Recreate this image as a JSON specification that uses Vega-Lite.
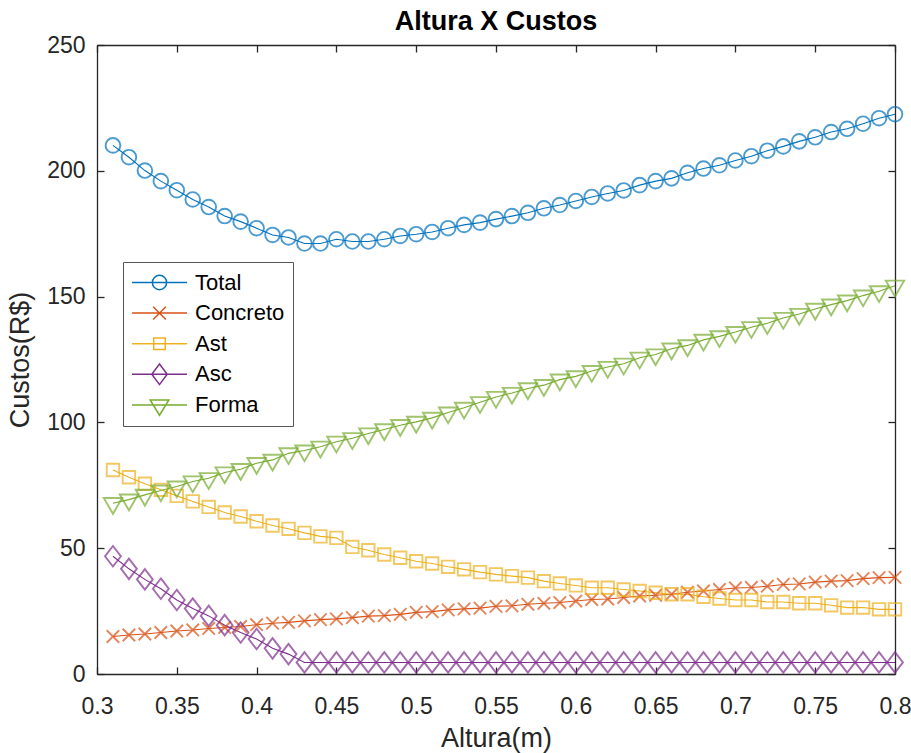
{
"$schema":"https://vega.github.io/schema/vega-lite/v6.json",
"width":798,"height":629,
"autosize":{"type":"none"},
"padding":{"left":97,"top":45,"right":16,"bottom":79},
"background":"white",
"title":{"text":"Altura X Custos","font":"Liberation Sans","fontSize":27,"fontWeight":"bold","color":"#000000","offset":8,"dy":10,"anchor":"middle"},
"datasets":{"d":[
{"altura":0.31,"serie":"Total","custo":210.1},{"altura":0.32,"serie":"Total","custo":205.4},{"altura":0.33,"serie":"Total","custo":200.1},{"altura":0.34,"serie":"Total","custo":195.9},{"altura":0.35,"serie":"Total","custo":192.3},{"altura":0.36,"serie":"Total","custo":188.6},{"altura":0.37,"serie":"Total","custo":185.6},{"altura":0.38,"serie":"Total","custo":182.0},{"altura":0.39,"serie":"Total","custo":179.8},{"altura":0.40,"serie":"Total","custo":177.2},
{"altura":0.41,"serie":"Total","custo":174.5},{"altura":0.42,"serie":"Total","custo":173.5},{"altura":0.43,"serie":"Total","custo":171.1},{"altura":0.44,"serie":"Total","custo":171.1},{"altura":0.45,"serie":"Total","custo":172.8},{"altura":0.46,"serie":"Total","custo":171.9},{"altura":0.47,"serie":"Total","custo":171.9},{"altura":0.48,"serie":"Total","custo":172.8},{"altura":0.49,"serie":"Total","custo":174.1},{"altura":0.50,"serie":"Total","custo":174.8},
{"altura":0.51,"serie":"Total","custo":175.7},{"altura":0.52,"serie":"Total","custo":177.2},{"altura":0.53,"serie":"Total","custo":178.5},{"altura":0.54,"serie":"Total","custo":179.4},{"altura":0.55,"serie":"Total","custo":180.8},{"altura":0.56,"serie":"Total","custo":182.0},{"altura":0.57,"serie":"Total","custo":183.3},{"altura":0.58,"serie":"Total","custo":185.1},{"altura":0.59,"serie":"Total","custo":186.4},{"altura":0.60,"serie":"Total","custo":188.0},
{"altura":0.61,"serie":"Total","custo":189.6},{"altura":0.62,"serie":"Total","custo":191.0},{"altura":0.63,"serie":"Total","custo":192.2},{"altura":0.64,"serie":"Total","custo":194.3},{"altura":0.65,"serie":"Total","custo":195.9},{"altura":0.66,"serie":"Total","custo":197.0},{"altura":0.67,"serie":"Total","custo":199.2},{"altura":0.68,"serie":"Total","custo":200.9},{"altura":0.69,"serie":"Total","custo":202.2},{"altura":0.70,"serie":"Total","custo":204.1},
{"altura":0.71,"serie":"Total","custo":205.8},{"altura":0.72,"serie":"Total","custo":208.0},{"altura":0.73,"serie":"Total","custo":209.7},{"altura":0.74,"serie":"Total","custo":211.7},{"altura":0.75,"serie":"Total","custo":213.3},{"altura":0.76,"serie":"Total","custo":215.4},{"altura":0.77,"serie":"Total","custo":216.7},{"altura":0.78,"serie":"Total","custo":218.7},{"altura":0.79,"serie":"Total","custo":220.9},{"altura":0.80,"serie":"Total","custo":222.5},
{"altura":0.31,"serie":"Concreto","custo":14.9},{"altura":0.32,"serie":"Concreto","custo":15.5},{"altura":0.33,"serie":"Concreto","custo":15.9},{"altura":0.34,"serie":"Concreto","custo":16.5},{"altura":0.35,"serie":"Concreto","custo":17.1},{"altura":0.36,"serie":"Concreto","custo":17.5},{"altura":0.37,"serie":"Concreto","custo":18.1},{"altura":0.38,"serie":"Concreto","custo":18.5},{"altura":0.39,"serie":"Concreto","custo":18.9},{"altura":0.40,"serie":"Concreto","custo":19.6},
{"altura":0.41,"serie":"Concreto","custo":20.2},{"altura":0.42,"serie":"Concreto","custo":20.5},{"altura":0.43,"serie":"Concreto","custo":21.1},{"altura":0.44,"serie":"Concreto","custo":21.6},{"altura":0.45,"serie":"Concreto","custo":21.9},{"altura":0.46,"serie":"Concreto","custo":22.4},{"altura":0.47,"serie":"Concreto","custo":23.0},{"altura":0.48,"serie":"Concreto","custo":23.2},{"altura":0.49,"serie":"Concreto","custo":23.7},{"altura":0.50,"serie":"Concreto","custo":24.5},
{"altura":0.51,"serie":"Concreto","custo":24.8},{"altura":0.52,"serie":"Concreto","custo":25.5},{"altura":0.53,"serie":"Concreto","custo":25.9},{"altura":0.54,"serie":"Concreto","custo":26.2},{"altura":0.55,"serie":"Concreto","custo":26.9},{"altura":0.56,"serie":"Concreto","custo":27.1},{"altura":0.57,"serie":"Concreto","custo":27.7},{"altura":0.58,"serie":"Concreto","custo":28.1},{"altura":0.59,"serie":"Concreto","custo":28.4},{"altura":0.60,"serie":"Concreto","custo":29.0},
{"altura":0.61,"serie":"Concreto","custo":29.6},{"altura":0.62,"serie":"Concreto","custo":29.8},{"altura":0.63,"serie":"Concreto","custo":30.4},{"altura":0.64,"serie":"Concreto","custo":31.0},{"altura":0.65,"serie":"Concreto","custo":31.3},{"altura":0.66,"serie":"Concreto","custo":31.7},{"altura":0.67,"serie":"Concreto","custo":32.5},{"altura":0.68,"serie":"Concreto","custo":33.0},{"altura":0.69,"serie":"Concreto","custo":33.6},{"altura":0.70,"serie":"Concreto","custo":34.2},
{"altura":0.71,"serie":"Concreto","custo":34.4},{"altura":0.72,"serie":"Concreto","custo":34.9},{"altura":0.73,"serie":"Concreto","custo":35.6},{"altura":0.74,"serie":"Concreto","custo":35.8},{"altura":0.75,"serie":"Concreto","custo":36.5},{"altura":0.76,"serie":"Concreto","custo":36.9},{"altura":0.77,"serie":"Concreto","custo":37.1},{"altura":0.78,"serie":"Concreto","custo":37.9},{"altura":0.79,"serie":"Concreto","custo":38.3},{"altura":0.80,"serie":"Concreto","custo":38.4},
{"altura":0.31,"serie":"Ast","custo":81.1},{"altura":0.32,"serie":"Ast","custo":78.2},{"altura":0.33,"serie":"Ast","custo":75.6},{"altura":0.34,"serie":"Ast","custo":73.2},{"altura":0.35,"serie":"Ast","custo":70.8},{"altura":0.36,"serie":"Ast","custo":68.6},{"altura":0.37,"serie":"Ast","custo":66.4},{"altura":0.38,"serie":"Ast","custo":64.2},{"altura":0.39,"serie":"Ast","custo":62.6},{"altura":0.40,"serie":"Ast","custo":60.7},
{"altura":0.41,"serie":"Ast","custo":59.0},{"altura":0.42,"serie":"Ast","custo":57.7},{"altura":0.43,"serie":"Ast","custo":56.1},{"altura":0.44,"serie":"Ast","custo":54.7},{"altura":0.45,"serie":"Ast","custo":54.1},{"altura":0.46,"serie":"Ast","custo":50.5},{"altura":0.47,"serie":"Ast","custo":49.2},{"altura":0.48,"serie":"Ast","custo":47.5},{"altura":0.49,"serie":"Ast","custo":46.2},{"altura":0.50,"serie":"Ast","custo":44.8},
{"altura":0.51,"serie":"Ast","custo":43.9},{"altura":0.52,"serie":"Ast","custo":42.6},{"altura":0.53,"serie":"Ast","custo":41.6},{"altura":0.54,"serie":"Ast","custo":40.5},{"altura":0.55,"serie":"Ast","custo":39.6},{"altura":0.56,"serie":"Ast","custo":38.9},{"altura":0.57,"serie":"Ast","custo":38.3},{"altura":0.58,"serie":"Ast","custo":36.9},{"altura":0.59,"serie":"Ast","custo":36.0},{"altura":0.60,"serie":"Ast","custo":35.2},
{"altura":0.61,"serie":"Ast","custo":34.3},{"altura":0.62,"serie":"Ast","custo":34.3},{"altura":0.63,"serie":"Ast","custo":33.6},{"altura":0.64,"serie":"Ast","custo":33.0},{"altura":0.65,"serie":"Ast","custo":32.3},{"altura":0.66,"serie":"Ast","custo":31.7},{"altura":0.67,"serie":"Ast","custo":31.7},{"altura":0.68,"serie":"Ast","custo":30.7},{"altura":0.69,"serie":"Ast","custo":30.0},{"altura":0.70,"serie":"Ast","custo":29.4},
{"altura":0.71,"serie":"Ast","custo":29.4},{"altura":0.72,"serie":"Ast","custo":28.6},{"altura":0.73,"serie":"Ast","custo":28.6},{"altura":0.74,"serie":"Ast","custo":28.1},{"altura":0.75,"serie":"Ast","custo":28.1},{"altura":0.76,"serie":"Ast","custo":27.3},{"altura":0.77,"serie":"Ast","custo":26.4},{"altura":0.78,"serie":"Ast","custo":26.4},{"altura":0.79,"serie":"Ast","custo":25.7},{"altura":0.80,"serie":"Ast","custo":25.7},
{"altura":0.31,"serie":"Asc","custo":46.8},{"altura":0.32,"serie":"Asc","custo":41.8},{"altura":0.33,"serie":"Asc","custo":37.6},{"altura":0.34,"serie":"Asc","custo":33.9},{"altura":0.35,"serie":"Asc","custo":29.4},{"altura":0.36,"serie":"Asc","custo":26.0},{"altura":0.37,"serie":"Asc","custo":23.1},{"altura":0.38,"serie":"Asc","custo":19.4},{"altura":0.39,"serie":"Asc","custo":16.5},{"altura":0.40,"serie":"Asc","custo":13.9},
{"altura":0.41,"serie":"Asc","custo":10.2},{"altura":0.42,"serie":"Asc","custo":7.9},{"altura":0.43,"serie":"Asc","custo":4.6},{"altura":0.44,"serie":"Asc","custo":4.6},{"altura":0.45,"serie":"Asc","custo":4.6},{"altura":0.46,"serie":"Asc","custo":4.6},{"altura":0.47,"serie":"Asc","custo":4.6},{"altura":0.48,"serie":"Asc","custo":4.6},{"altura":0.49,"serie":"Asc","custo":4.6},{"altura":0.50,"serie":"Asc","custo":4.6},
{"altura":0.51,"serie":"Asc","custo":4.6},{"altura":0.52,"serie":"Asc","custo":4.6},{"altura":0.53,"serie":"Asc","custo":4.6},{"altura":0.54,"serie":"Asc","custo":4.6},{"altura":0.55,"serie":"Asc","custo":4.6},{"altura":0.56,"serie":"Asc","custo":4.6},{"altura":0.57,"serie":"Asc","custo":4.6},{"altura":0.58,"serie":"Asc","custo":4.6},{"altura":0.59,"serie":"Asc","custo":4.6},{"altura":0.60,"serie":"Asc","custo":4.6},
{"altura":0.61,"serie":"Asc","custo":4.6},{"altura":0.62,"serie":"Asc","custo":4.6},{"altura":0.63,"serie":"Asc","custo":4.6},{"altura":0.64,"serie":"Asc","custo":4.6},{"altura":0.65,"serie":"Asc","custo":4.6},{"altura":0.66,"serie":"Asc","custo":4.6},{"altura":0.67,"serie":"Asc","custo":4.6},{"altura":0.68,"serie":"Asc","custo":4.6},{"altura":0.69,"serie":"Asc","custo":4.6},{"altura":0.70,"serie":"Asc","custo":4.6},
{"altura":0.71,"serie":"Asc","custo":4.6},{"altura":0.72,"serie":"Asc","custo":4.6},{"altura":0.73,"serie":"Asc","custo":4.6},{"altura":0.74,"serie":"Asc","custo":4.6},{"altura":0.75,"serie":"Asc","custo":4.6},{"altura":0.76,"serie":"Asc","custo":4.6},{"altura":0.77,"serie":"Asc","custo":4.6},{"altura":0.78,"serie":"Asc","custo":4.6},{"altura":0.79,"serie":"Asc","custo":4.6},{"altura":0.80,"serie":"Asc","custo":4.6},
{"altura":0.31,"serie":"Forma","custo":67.9},{"altura":0.32,"serie":"Forma","custo":69.3},{"altura":0.33,"serie":"Forma","custo":71.2},{"altura":0.34,"serie":"Forma","custo":72.9},{"altura":0.35,"serie":"Forma","custo":74.5},{"altura":0.36,"serie":"Forma","custo":76.5},{"altura":0.37,"serie":"Forma","custo":77.8},{"altura":0.38,"serie":"Forma","custo":80.1},{"altura":0.39,"serie":"Forma","custo":81.4},{"altura":0.40,"serie":"Forma","custo":83.8},
{"altura":0.41,"serie":"Forma","custo":85.1},{"altura":0.42,"serie":"Forma","custo":87.7},{"altura":0.43,"serie":"Forma","custo":88.8},{"altura":0.44,"serie":"Forma","custo":90.3},{"altura":0.45,"serie":"Forma","custo":92.3},{"altura":0.46,"serie":"Forma","custo":93.7},{"altura":0.47,"serie":"Forma","custo":95.6},{"altura":0.48,"serie":"Forma","custo":97.2},{"altura":0.49,"serie":"Forma","custo":98.9},{"altura":0.50,"serie":"Forma","custo":100.2},
{"altura":0.51,"serie":"Forma","custo":101.8},{"altura":0.52,"serie":"Forma","custo":103.9},{"altura":0.53,"serie":"Forma","custo":105.8},{"altura":0.54,"serie":"Forma","custo":108.0},{"altura":0.55,"serie":"Forma","custo":110.1},{"altura":0.56,"serie":"Forma","custo":111.7},{"altura":0.57,"serie":"Forma","custo":113.5},{"altura":0.58,"serie":"Forma","custo":114.8},{"altura":0.59,"serie":"Forma","custo":117.0},{"altura":0.60,"serie":"Forma","custo":118.3},
{"altura":0.61,"serie":"Forma","custo":120.4},{"altura":0.62,"serie":"Forma","custo":122.0},{"altura":0.63,"serie":"Forma","custo":123.3},{"altura":0.64,"serie":"Forma","custo":125.7},{"altura":0.65,"serie":"Forma","custo":127.0},{"altura":0.66,"serie":"Forma","custo":129.3},{"altura":0.67,"serie":"Forma","custo":130.6},{"altura":0.68,"serie":"Forma","custo":132.8},{"altura":0.69,"serie":"Forma","custo":134.2},{"altura":0.70,"serie":"Forma","custo":135.9},
{"altura":0.71,"serie":"Forma","custo":137.8},{"altura":0.72,"serie":"Forma","custo":139.4},{"altura":0.73,"serie":"Forma","custo":141.5},{"altura":0.74,"serie":"Forma","custo":143.1},{"altura":0.75,"serie":"Forma","custo":145.1},{"altura":0.76,"serie":"Forma","custo":146.8},{"altura":0.77,"serie":"Forma","custo":148.4},{"altura":0.78,"serie":"Forma","custo":150.4},{"altura":0.79,"serie":"Forma","custo":152.1},{"altura":0.80,"serie":"Forma","custo":154.3}
]},
"data":{"name":"d"},
"config":{
 "view":{"stroke":null},
 "axis":{"grid":false,"domainColor":"#262626","domainWidth":1.3,"tickColor":"#262626","tickWidth":1.3,"tickSize":-7,
  "labelFont":"Liberation Sans","labelFontSize":23,"labelColor":"#262626",
  "titleFont":"Liberation Sans","titleFontSize":27,"titleFontWeight":"normal","titleColor":"#262626"},
 "point":{"filled":false,"size":215,"strokeWidth":1.9}
},
"resolve":{"axis":{"x":"independent","y":"independent"}},
"layer":[
 {"mark":{"type":"line","strokeWidth":1.1},
  "encoding":{
   "x":{"field":"altura","type":"quantitative","scale":{"domain":[0.3,0.8],"nice":false,"zero":false},
        "axis":{"title":"Altura(m)","values":[0.3,0.35,0.4,0.45,0.5,0.55,0.6,0.65,0.7,0.75,0.8],"format":"~g","labelPadding":28,"titlePadding":7,"labelFlush":false,"labelBound":false,"labelOverlap":false}},
   "y":{"field":"custo","type":"quantitative","scale":{"domain":[0,250],"nice":false},
        "axis":{"title":"Custos(R$)","values":[0,50,100,150,200,250],"labelPadding":19,"titlePadding":12,"labelFlush":false,"labelOverlap":false}},
   "color":{"field":"serie","type":"nominal",
     "scale":{"domain":["Total","Concreto","Ast","Asc","Forma"],"range":["#0072BD","#D95319","#EDB120","#7E2F8E","#77AC30"]},
     "legend":{"title":null,"orient":"none","legendX":26,"legendY":217,"padding":8,
       "strokeColor":"#555555","fillColor":"white","labelFont":"Liberation Sans","labelFontSize":22,"labelColor":"#000000",
       "symbolSize":3025,"symbolStrokeWidth":1.5,"labelOffset":7,"clipHeight":25,"rowPadding":5.6,
       "encode":{"symbols":{"update":{"fill":{"value":"transparent"},"shape":{"signal":"datum.value==='Total'?'M-1,0L1,0M-0.26,0A0.26,0.26 0 1,1 0.26,0A0.26,0.26 0 1,1 -0.26,0':datum.value==='Concreto'?'M-1,0L1,0M-0.23,-0.23L0.23,0.23M-0.23,0.23L0.23,-0.23':datum.value==='Ast'?'M-1,0L1,0M-0.21,-0.21H0.21V0.21H-0.21Z':datum.value==='Asc'?'M-1,0L1,0M0,-0.375L0.28,0L0,0.375L-0.28,0Z':'M-1,0L1,0M-0.34,-0.18L0.34,-0.18L0,0.375Z'"}}}}}}
  }},
 {"transform":[{"filter":"datum.serie==='Total'"}],
  "mark":{"type":"point","shape":"circle"},
  "encoding":{"x":{"field":"altura","type":"quantitative","axis":null},"y":{"field":"custo","type":"quantitative","axis":null},"color":{"field":"serie","type":"nominal","legend":null}}},
 {"transform":[{"filter":"datum.serie==='Concreto'"}],
  "mark":{"type":"point","shape":"M-0.85,-0.85L0.85,0.85M-0.85,0.85L0.85,-0.85"},
  "encoding":{"x":{"field":"altura","type":"quantitative","axis":null},"y":{"field":"custo","type":"quantitative","axis":null},"color":{"field":"serie","type":"nominal","legend":null}}},
 {"transform":[{"filter":"datum.serie==='Ast'"}],
  "mark":{"type":"point","shape":"M-0.85,-0.85H0.85V0.85H-0.85Z"},
  "encoding":{"x":{"field":"altura","type":"quantitative","axis":null},"y":{"field":"custo","type":"quantitative","axis":null},"color":{"field":"serie","type":"nominal","legend":null}}},
 {"transform":[{"filter":"datum.serie==='Asc'"}],
  "mark":{"type":"point","shape":"M0,-1.4L1.08,0L0,1.4L-1.08,0Z"},
  "encoding":{"x":{"field":"altura","type":"quantitative","axis":null},"y":{"field":"custo","type":"quantitative","axis":null},"color":{"field":"serie","type":"nominal","legend":null}}},
 {"transform":[{"filter":"datum.serie==='Forma'"}],
  "mark":{"type":"point","shape":"M-1.25,-0.7L1.25,-0.7L0,1.45Z"},
  "encoding":{"x":{"field":"altura","type":"quantitative","axis":null},"y":{"field":"custo","type":"quantitative","axis":null},"color":{"field":"serie","type":"nominal","legend":null}}},
 {"mark":{"type":"point","opacity":0},
  "encoding":{
   "x":{"field":"altura","type":"quantitative","axis":{"orient":"top","labels":false,"title":null,"values":[0.3,0.35,0.4,0.45,0.5,0.55,0.6,0.65,0.7,0.75,0.8]}},
   "y":{"field":"custo","type":"quantitative","axis":{"orient":"right","labels":false,"title":null,"values":[0,50,100,150,200,250]}}
  }}
]
}
